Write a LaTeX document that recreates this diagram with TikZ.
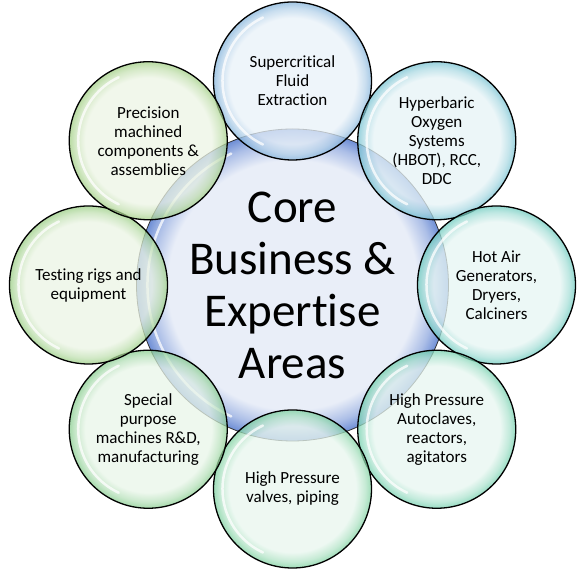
\documentclass[tikz,border=0pt]{standalone}
\usepackage{fontspec}
\setmainfont[Ligatures=NoCommon]{Carlito}
\usepackage{xcolor}
\usepackage{tikz}

\definecolor{coreIn}{HTML}{E9EEF8}
\definecolor{coreRim}{HTML}{6F8FD6}
\definecolor{superIn}{HTML}{E8F1F8}
\definecolor{superRim}{HTML}{86B5DC}
\definecolor{hyperIn}{HTML}{E6F3F6}
\definecolor{hyperRim}{HTML}{78C3D2}
\definecolor{hotIn}{HTML}{E6F5F3}
\definecolor{hotRim}{HTML}{6ECBBF}
\definecolor{autoIn}{HTML}{E7F6F0}
\definecolor{autoRim}{HTML}{74D0AE}
\definecolor{valveIn}{HTML}{E8F6EE}
\definecolor{valveRim}{HTML}{7ED1A0}
\definecolor{specIn}{HTML}{E8F5E8}
\definecolor{specRim}{HTML}{88CD8F}
\definecolor{testIn}{HTML}{EBF4E4}
\definecolor{testRim}{HTML}{9ACE84}
\definecolor{precIn}{HTML}{ECF4E4}
\definecolor{precRim}{HTML}{A2CF85}

\colorlet{bubin}{white}
\colorlet{bubrim}{gray}
\pgfdeclareradialshading[bubin,bubrim]{bubble}{\pgfpoint{0bp}{0bp}}{%
  color(0bp)=(bubin); color(20bp)=(bubin); color(23bp)=(bubin!50!bubrim);
  color(25bp)=(bubrim); color(50bp)=(bubrim)}

\tikzset{
  gloss/.style={path picture={
      \draw[white, line width=2.5pt, opacity=.75, line cap=round]
        ([shift={(115:#1)}]path picture bounding box.center)
        arc[start angle=115, end angle=245, radius=#1];}},
  tint/.style 2 args={/utils/exec={\colorlet{bubin}{#1}\colorlet{bubrim}{#2}}},
  bubble/.style 2 args={circle, draw=black, line width=1.3pt,
    minimum size=158pt, inner sep=0pt, align=center,
    tint={#1}{#2}, shade, shading=bubble, fill opacity=.75, text opacity=1,
    font=\fontsize{17}{19}\selectfont, gloss=70pt},
  corebubble/.style={circle, draw=black!80, line width=.8pt,
    minimum size=312pt, inner sep=0pt, align=center,
    tint={coreIn}{coreRim}, shade, shading=bubble,
    font=\fontsize{47}{52}\selectfont, gloss=145pt}
}

\begin{document}
\begin{tikzpicture}[x=1pt, y=1pt]
  \useasboundingbox (-292.5,-284) rectangle (288.5,285);
  \node[corebubble] (core) at (0,0) {Core\\Business \&\\Expertise\\Areas};
  \node[bubble={superIn}{superRim}] (nsuper) at (90:204) {Supercritical\\Fluid\\Extraction};
  \node[bubble={hyperIn}{hyperRim}] (nhyper) at (45:204) {Hyperbaric\\Oxygen\\Systems\\(HBOT), RCC,\\DDC};
  \node[bubble={hotIn}{hotRim}] (nhotair) at (0:204) {Hot Air\\Generators,\\Dryers,\\Calciners};
  \node[bubble={autoIn}{autoRim}] (nautoclave) at (-45:204) {High Pressure\\Autoclaves,\\reactors,\\agitators};
  \node[bubble={valveIn}{valveRim}] (nvalves) at (-90:204) {High Pressure\\valves, piping};
  \node[bubble={specIn}{specRim}] (nspecial) at (-135:204) {Special\\purpose\\machines R\&D,\\manufacturing};
  \node[bubble={testIn}{testRim}] (ntesting) at (180:204) {Testing rigs and\\equipment};
  \node[bubble={precIn}{precRim}] (nprecision) at (135:204) {Precision\\machined\\components \&\\assemblies};
\end{tikzpicture}
\end{document}
